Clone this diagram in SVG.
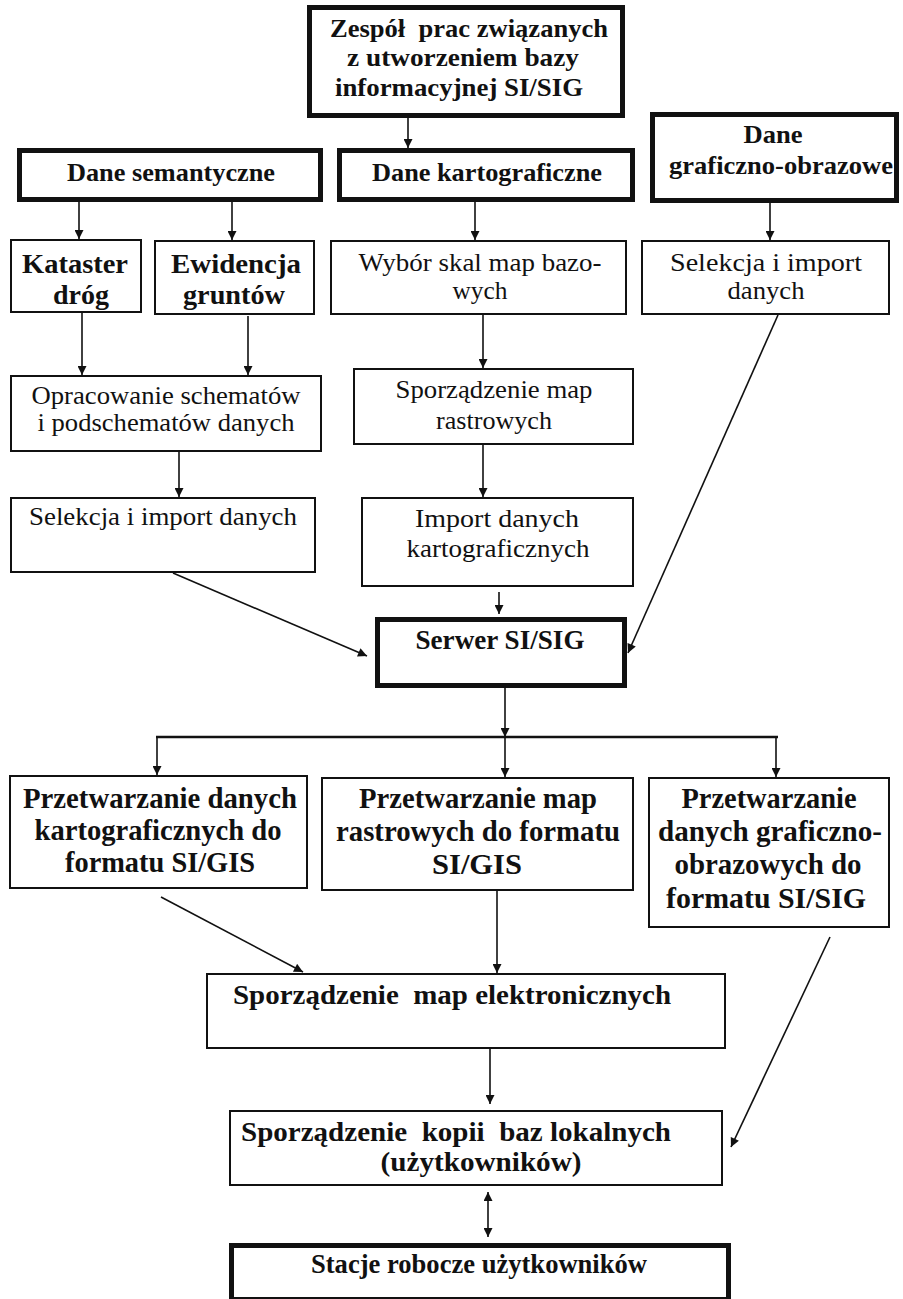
<svg xmlns="http://www.w3.org/2000/svg" width="903" height="1299" viewBox="0 0 903 1299">
  <style>
    .box { fill: #ffffff; stroke: #111111; stroke-width: 2; }
    .thick { fill: #ffffff; stroke: #111111; stroke-width: 5; }
    .b { font-family: "Liberation Serif", "Times New Roman", serif; font-weight: bold; fill: #111111; text-anchor: middle; white-space: pre; }
    .r { font-family: "Liberation Serif", "Times New Roman", serif; font-weight: normal; fill: #111111; text-anchor: middle; white-space: pre; }
    .s25 { font-size: 25px; }
    .s26 { font-size: 26px; }
    .s27 { font-size: 27px; }
    .s28 { font-size: 28px; }
    .s30 { font-size: 30px; }
    .link { fill: none; stroke: #111111; stroke-width: 1.6; marker-end: url(#arrow); }
    .bus { fill: none; stroke: #111111; stroke-width: 2.5; }
  </style>
  <defs>
    <marker id="arrow" viewBox="0 0 10 10" refX="10" refY="5" markerUnits="userSpaceOnUse" markerWidth="10" markerHeight="9" orient="auto-start-reverse">
      <path d="M0,0 L10,5 L0,10 z" fill="#111111"/>
    </marker>
  </defs>

  <rect x="0" y="0" width="903" height="1299" fill="#ffffff"/>

  <!-- connectors -->
  <g id="connectors">
    <line class="link" x1="408" y1="118" x2="408" y2="148"/>
    <line class="link" x1="79" y1="202" x2="79" y2="239"/>
    <line class="link" x1="232" y1="202" x2="232" y2="240"/>
    <line class="link" x1="475" y1="202" x2="475" y2="240"/>
    <line class="link" x1="770" y1="203" x2="770" y2="240"/>
    <line class="link" x1="82" y1="313" x2="82" y2="375"/>
    <line class="link" x1="248" y1="316" x2="248" y2="375"/>
    <line class="link" x1="179" y1="451" x2="179" y2="497"/>
    <line class="link" x1="483" y1="315" x2="483" y2="368"/>
    <line class="link" x1="483" y1="445" x2="483" y2="497"/>
    <line class="link" x1="499" y1="592" x2="499" y2="614"/>
    <line class="link" x1="173" y1="573" x2="367" y2="656"/>
    <line class="link" x1="778" y1="315" x2="628" y2="653"/>
    <line class="link" x1="505" y1="688" x2="505" y2="737"/>
    <line class="bus" x1="156" y1="737" x2="778" y2="737"/>
    <line class="link" x1="157" y1="737" x2="157" y2="775"/>
    <line class="link" x1="505" y1="737" x2="505" y2="777"/>
    <line class="link" x1="776" y1="737" x2="776" y2="777"/>
    <line class="link" x1="161" y1="897" x2="303" y2="972"/>
    <line class="link" x1="497" y1="891" x2="497" y2="973"/>
    <line class="link" x1="830" y1="937" x2="731" y2="1147"/>
    <line class="link" x1="490" y1="1048" x2="490" y2="1104"/>
    <line class="link" x1="488" y1="1192" x2="488" y2="1237" style="marker-start: url(#arrow);"/>
  </g>

  <g id="zespol">
    <rect class="thick" x="309.5" y="7.5" width="313" height="108"/>
    <text class="b s26" x="469" y="37" textLength="278" lengthAdjust="spacingAndGlyphs">Zespół  prac związanych</text>
    <text class="b s26" x="463" y="66" textLength="232" lengthAdjust="spacingAndGlyphs">z utworzeniem bazy</text>
    <text class="b s26" x="459" y="96" textLength="248" lengthAdjust="spacingAndGlyphs">informacyjnej SI/SIG</text>
  </g>

  <g id="dane-semantyczne">
    <rect class="thick" x="19.5" y="150.5" width="301" height="49"/>
    <text class="b s26" x="171" y="181" textLength="208" lengthAdjust="spacingAndGlyphs">Dane semantyczne</text>
  </g>

  <g id="dane-kartograficzne">
    <rect class="thick" x="339.5" y="150.5" width="293" height="49"/>
    <text class="b s26" x="487" y="181" textLength="230" lengthAdjust="spacingAndGlyphs">Dane kartograficzne</text>
  </g>

  <g id="dane-graficzno-obrazowe">
    <rect class="thick" x="652.5" y="114.5" width="244" height="86"/>
    <text class="b s26" x="773" y="143" textLength="59" lengthAdjust="spacingAndGlyphs">Dane</text>
    <text class="b s26" x="781" y="174" textLength="224" lengthAdjust="spacingAndGlyphs">graficzno-obrazowe</text>
  </g>

  <g id="kataster">
    <rect class="box" x="11" y="240" width="130" height="72"/>
    <text class="b s28" x="75" y="273" textLength="106" lengthAdjust="spacingAndGlyphs">Kataster</text>
    <text class="b s28" x="81" y="304" textLength="56" lengthAdjust="spacingAndGlyphs">dróg</text>
  </g>

  <g id="ewidencja">
    <rect class="box" x="155" y="241" width="159" height="73"/>
    <text class="b s28" x="236" y="273" textLength="130" lengthAdjust="spacingAndGlyphs">Ewidencja</text>
    <text class="b s28" x="234" y="304" textLength="102" lengthAdjust="spacingAndGlyphs">gruntów</text>
  </g>

  <g id="wybor-skal">
    <rect class="box" x="331" y="241" width="295" height="73"/>
    <text class="r s26" x="480" y="271" textLength="243" lengthAdjust="spacingAndGlyphs">Wybór skal map bazo-</text>
    <text class="r s26" x="480" y="299" textLength="55" lengthAdjust="spacingAndGlyphs">wych</text>
  </g>

  <g id="selekcja-graficzne">
    <rect class="box" x="642" y="241" width="247" height="73"/>
    <text class="r s26" x="766" y="271" textLength="192" lengthAdjust="spacingAndGlyphs">Selekcja i import</text>
    <text class="r s26" x="766" y="299" textLength="77" lengthAdjust="spacingAndGlyphs">danych</text>
  </g>

  <g id="opracowanie">
    <rect class="box" x="11" y="376" width="310" height="75"/>
    <text class="r s26" x="166" y="404" textLength="269" lengthAdjust="spacingAndGlyphs">Opracowanie schematów</text>
    <text class="r s26" x="166" y="431" textLength="257" lengthAdjust="spacingAndGlyphs">i podschematów danych</text>
  </g>

  <g id="selekcja-semantyczne">
    <rect class="box" x="11" y="498" width="304" height="74"/>
    <text class="r s26" x="163" y="525" textLength="268" lengthAdjust="spacingAndGlyphs">Selekcja i import danych</text>
  </g>

  <g id="mapy-rastrowe">
    <rect class="box" x="354" y="369" width="279" height="75"/>
    <text class="r s26" x="494" y="398" textLength="197" lengthAdjust="spacingAndGlyphs">Sporządzenie map</text>
    <text class="r s26" x="494" y="429" textLength="116" lengthAdjust="spacingAndGlyphs">rastrowych</text>
  </g>

  <g id="import-kartograficzne">
    <rect class="box" x="362" y="498" width="271" height="88"/>
    <text class="r s26" x="497" y="527" textLength="164" lengthAdjust="spacingAndGlyphs">Import danych</text>
    <text class="r s26" x="498" y="557" textLength="183" lengthAdjust="spacingAndGlyphs">kartograficznych</text>
  </g>

  <g id="serwer">
    <rect class="thick" x="377.5" y="619.5" width="247" height="66"/>
    <text class="b s27" x="500" y="649" textLength="169" lengthAdjust="spacingAndGlyphs">Serwer SI/SIG</text>
  </g>

  <g id="przetwarzanie-kartograficzne">
    <rect class="box" x="10" y="776" width="297" height="112"/>
    <text class="b s30" x="160" y="808" textLength="274" lengthAdjust="spacingAndGlyphs">Przetwarzanie danych</text>
    <text class="b s30" x="158" y="840" textLength="247" lengthAdjust="spacingAndGlyphs">kartograficznych do</text>
    <text class="b s30" x="160" y="872" textLength="190" lengthAdjust="spacingAndGlyphs">formatu SI/GIS</text>
  </g>

  <g id="przetwarzanie-rastrowe">
    <rect class="box" x="322" y="778" width="311" height="112"/>
    <text class="b s30" x="478" y="808" textLength="238" lengthAdjust="spacingAndGlyphs">Przetwarzanie map</text>
    <text class="b s30" x="478" y="841" textLength="284" lengthAdjust="spacingAndGlyphs">rastrowych do formatu</text>
    <text class="b s30" x="477" y="874" textLength="90" lengthAdjust="spacingAndGlyphs">SI/GIS</text>
  </g>

  <g id="przetwarzanie-graficzne">
    <rect class="box" x="649" y="778" width="240" height="149"/>
    <text class="b s30" x="769" y="808" textLength="175" lengthAdjust="spacingAndGlyphs">Przetwarzanie</text>
    <text class="b s30" x="770" y="841" textLength="224" lengthAdjust="spacingAndGlyphs">danych graficzno-</text>
    <text class="b s30" x="768" y="874" textLength="187" lengthAdjust="spacingAndGlyphs">obrazowych do</text>
    <text class="b s30" x="766" y="908" textLength="200" lengthAdjust="spacingAndGlyphs">formatu SI/SIG</text>
  </g>

  <g id="mapy-elektroniczne">
    <rect class="box" x="207" y="974" width="518" height="74"/>
    <text class="b s28" x="452" y="1004" textLength="438" lengthAdjust="spacingAndGlyphs">Sporządzenie  map elektronicznych</text>
  </g>

  <g id="kopie-lokalne">
    <rect class="box" x="230" y="1111" width="492" height="74"/>
    <text class="b s28" x="456" y="1141" textLength="430" lengthAdjust="spacingAndGlyphs">Sporządzenie  kopii  baz lokalnych</text>
    <text class="b s28" x="481" y="1171" textLength="201" lengthAdjust="spacingAndGlyphs">(użytkowników)</text>
  </g>

  <g id="stacje-robocze">
    <rect class="thick" x="231.5" y="1245.5" width="497" height="54"/>
    <text class="b s27" x="479" y="1273" textLength="336" lengthAdjust="spacingAndGlyphs">Stacje robocze użytkowników</text>
  </g>
</svg>
